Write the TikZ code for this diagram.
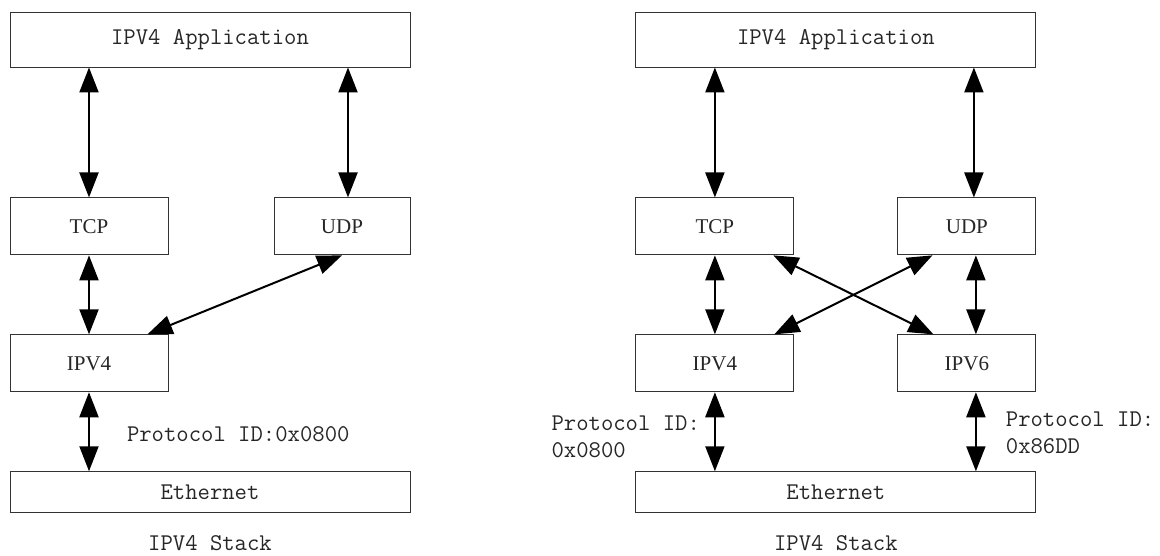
\documentclass[tikz,border=0pt]{standalone}
\usepackage{fontspec}
\newfontfamily\layerfont{Liberation Serif}
\usepackage{tikz}
\usetikzlibrary{arrows.meta,positioning}

\begin{document}
\begin{tikzpicture}[x=1pt,y=-1pt]
\tikzstyle{block} = [draw=black!80, rectangle, line width=0.9pt, inner sep=0pt, text=black!85]
\tikzstyle{wide} = [block, minimum width=400pt, font=\ttfamily\fontsize{24}{27}\selectfont]
\tikzstyle{layer} = [block, minimum height=57pt, font=\layerfont\fontsize{21}{24}\selectfont]
\tikzstyle{both} = [{Triangle[length=25pt,width=19pt]}-{Triangle[length=25pt,width=19pt]}, line width=2pt]
\tikzstyle{note} = [font=\ttfamily\fontsize{24}{27}\selectfont, align=left, inner sep=0pt, text=black!85]

\useasboundingbox (0,0) rectangle (1160,556);

\node [wide, minimum height=55pt] (app1) at (210,39.5) {IPV4 Application};
\node [layer, minimum width=158pt, below=130pt of app1.south west, anchor=north west] (tcp1) {TCP};
\node [layer, minimum width=136pt, below=130pt of app1.south east, anchor=north east] (udp1) {UDP};
\node [layer, minimum width=158pt, below=79pt of tcp1] (ipv4a) {IPV4};
\node [wide, minimum height=41pt, below=79pt of ipv4a.south west, anchor=north west] (eth1) {Ethernet};
\node [note, below=22pt of eth1] (cap1) {IPV4 Stack};

\node [wide, minimum height=55pt, right=225pt of app1] (app2) {IPV4 Application};
\node [layer, minimum width=158pt, below=130pt of app2.south west, anchor=north west] (tcp2) {TCP};
\node [layer, minimum width=138pt, below=130pt of app2.south east, anchor=north east] (udp2) {UDP};
\node [layer, minimum width=158pt, below=79pt of tcp2] (ipv4b) {IPV4};
\node [layer, minimum width=138pt, below=79pt of udp2] (ipv6) {IPV6};
\node [wide, minimum height=41pt, below=79pt of ipv4b.south west, anchor=north west] (eth2) {Ethernet};
\node [note, below=22pt of eth2] (cap2) {IPV4 Stack};

\draw [both] (app1.south -| tcp1.north) -- (tcp1.north);
\draw [both] ([xshift=6pt]udp1.north) coordinate (u1) -- (u1 |- app1.south);
\draw [both] (tcp1) -- (ipv4a);
\draw [both] (udp1.south) -- ([xshift=-21pt]ipv4a.north east);
\draw [both] (ipv4a) -- node [note, right=37pt, yshift=-2.5pt] (id1) {Protocol ID:0x0800} (ipv4a |- eth1.north);

\draw [both] (app2.south -| tcp2.north) -- (tcp2.north);
\draw [both] ([xshift=7pt]udp2.north) coordinate (u2) -- (u2 |- app2.south);
\draw [both] (tcp2) -- (ipv4b);
\draw [both] ([xshift=9pt]udp2.south) coordinate (u3) -- (u3 |- ipv6.north);
\draw [both] ([xshift=-21pt]tcp2.south east) -- ([xshift=36pt]ipv6.north west);
\draw [both] ([xshift=35pt]udp2.south west) -- ([xshift=-20pt]ipv4b.north east);
\draw [both] (ipv4b) -- node [note, left=14pt, yshift=-5pt] (id2) {Protocol ID:\\0x0800} (ipv4b |- eth2.north);
\draw [both] ([xshift=9pt]ipv6.south) coordinate (u4) -- node [note, right=29pt, yshift=-1.5pt] (id3) {Protocol ID:\\0x86DD} (u4 |- eth2.north);
\end{tikzpicture}
\end{document}
